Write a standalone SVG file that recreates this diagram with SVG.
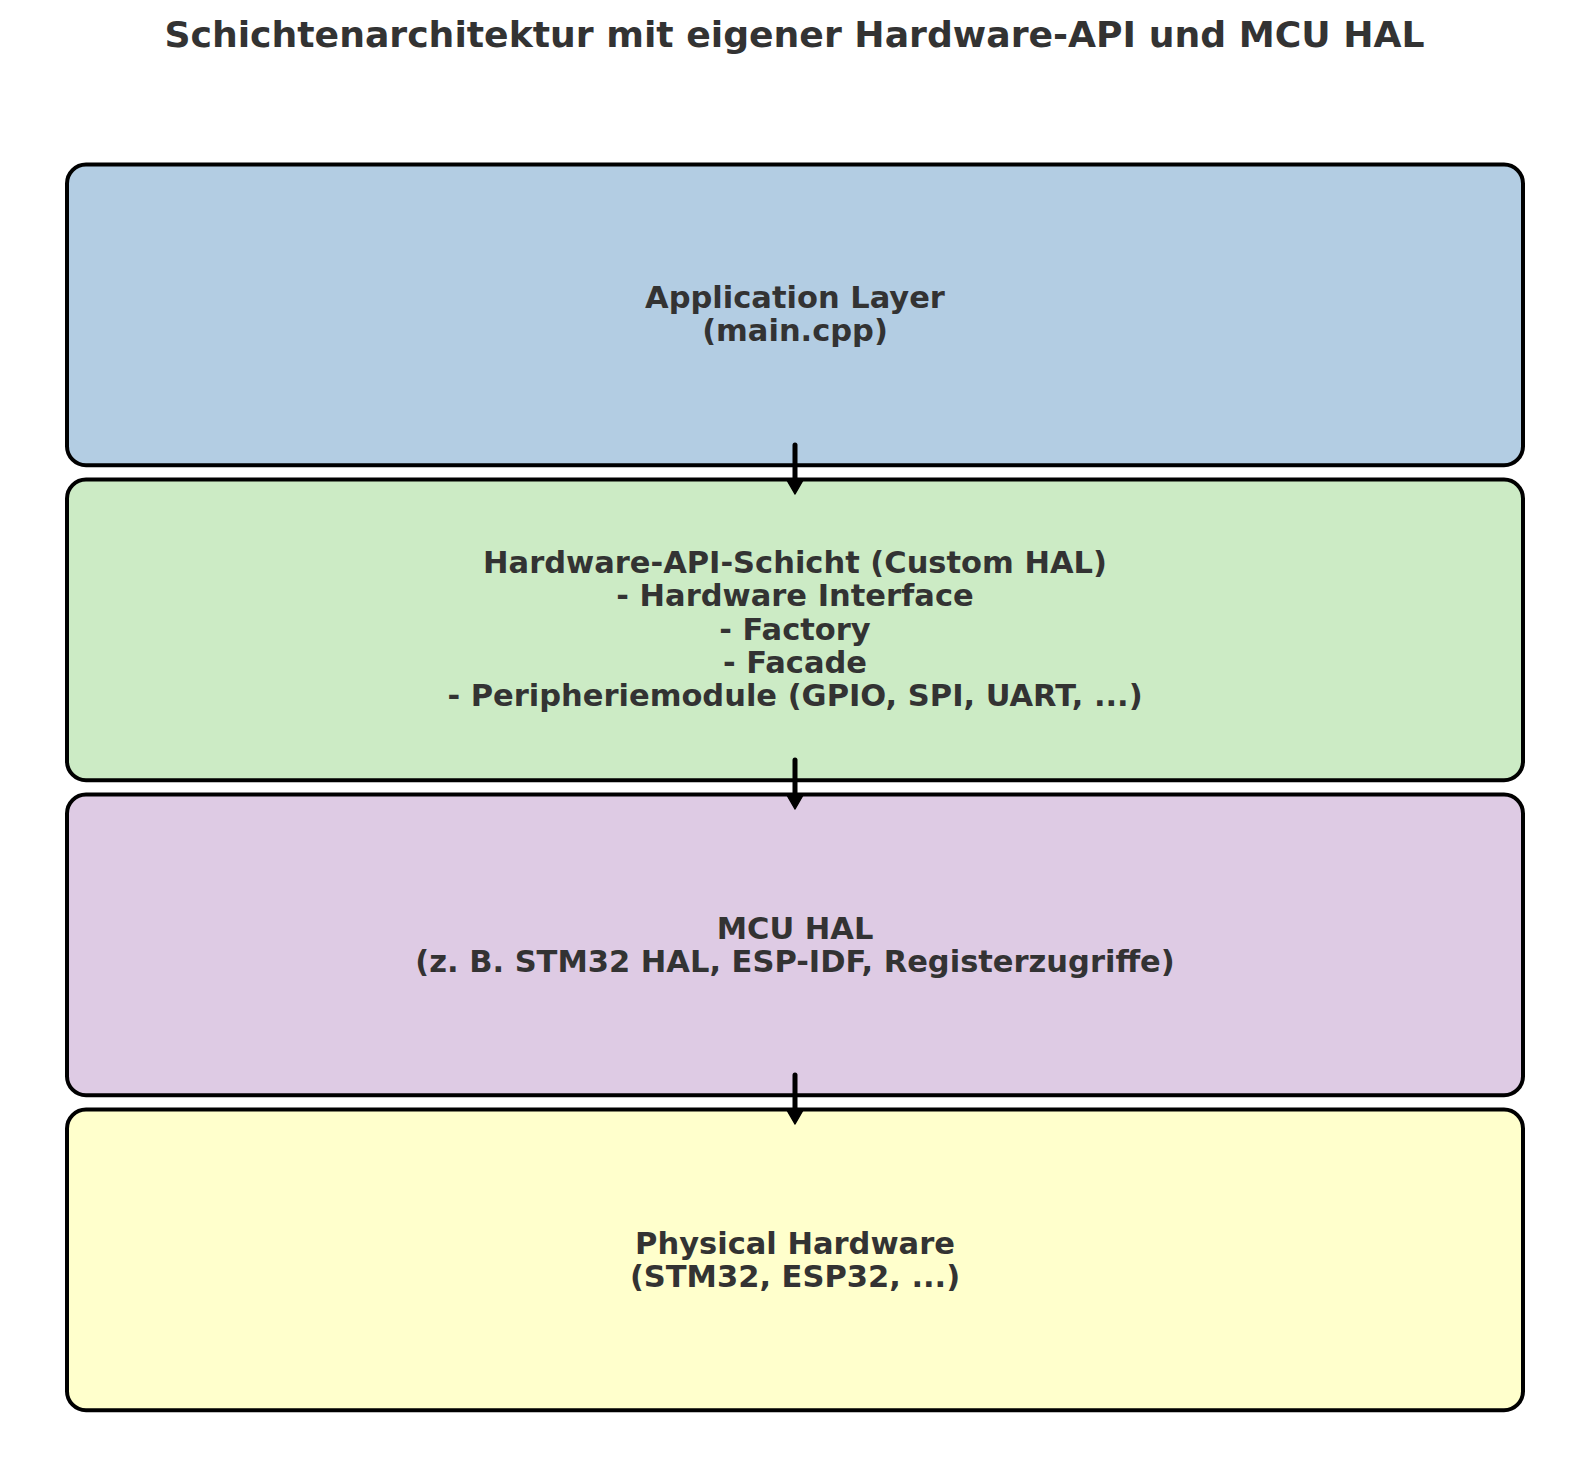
<svg xmlns="http://www.w3.org/2000/svg" width="1589" height="1469" viewBox="0 0 1589 1469">
<style>
.box{stroke:#000;stroke-width:4}
.lbl{font-family:"DejaVu Sans",sans-serif;font-weight:bold;font-size:30.5px;fill:#333333;text-anchor:middle}
.title{font-family:"DejaVu Sans",sans-serif;font-weight:bold;font-size:36.2px;fill:#333333;text-anchor:middle}
.conn line{stroke:#000;stroke-width:5;stroke-linecap:round}
.conn polygon{fill:#000;stroke:#000;stroke-width:1.5;stroke-linejoin:round}
</style>
<rect width="1589" height="1469" fill="#fff"/>
<text class="title" x="794.5" y="46.5">Schichtenarchitektur mit eigener Hardware-API und MCU HAL</text>
<g id="app">
<rect class="box" x="67" y="164.5" width="1456" height="300.7" rx="19" fill="#b3cde3"/>
<text class="lbl" x="795" y="308"><tspan x="795">Application Layer</tspan><tspan x="795" dy="33.3">(main.cpp)</tspan></text>
</g>
<g id="hwapi">
<rect class="box" x="67" y="479.5" width="1456" height="300.7" rx="19" fill="#ccebc5"/>
<text class="lbl" x="795" y="573"><tspan x="795">Hardware-API-Schicht (Custom HAL)</tspan><tspan x="795" dy="33.3">- Hardware Interface</tspan><tspan x="795" dy="33.3">- Factory</tspan><tspan x="795" dy="33.3">- Facade</tspan><tspan x="795" dy="33.3">- Peripheriemodule (GPIO, SPI, UART, ...)</tspan></text>
</g>
<g id="mcuhal">
<rect class="box" x="67" y="794.5" width="1456" height="300.7" rx="19" fill="#decbe4"/>
<text class="lbl" x="795" y="938.5"><tspan x="795">MCU HAL</tspan><tspan x="795" dy="33.3">(z. B. STM32 HAL, ESP-IDF, Registerzugriffe)</tspan></text>
</g>
<g id="phys">
<rect class="box" x="67" y="1109.5" width="1456" height="300.7" rx="19" fill="#ffffcc"/>
<text class="lbl" x="795" y="1254"><tspan x="795">Physical Hardware</tspan><tspan x="795" dy="33.3">(STM32, ESP32, ...)</tspan></text>
</g>
<g id="connectors" class="conn">
<line x1="795" y1="445" x2="795" y2="484"/>
<polygon points="787.5,481 802.5,481 795,494"/>
<line x1="795" y1="760" x2="795" y2="799"/>
<polygon points="787.5,796 802.5,796 795,809"/>
<line x1="795" y1="1075" x2="795" y2="1114"/>
<polygon points="787.5,1111 802.5,1111 795,1124"/>
</g>
</svg>
